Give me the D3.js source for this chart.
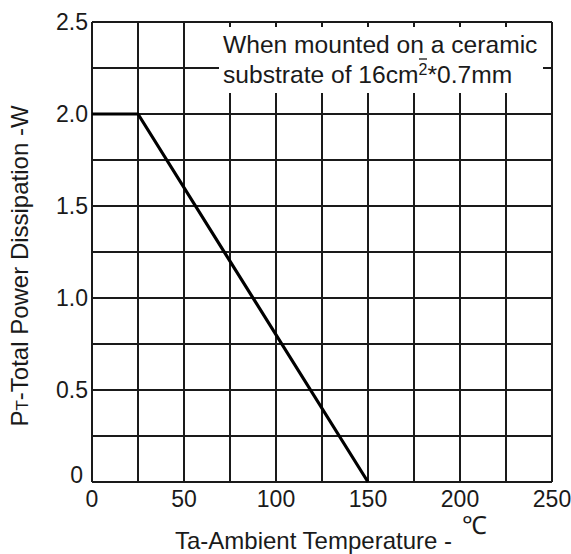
<!DOCTYPE html>
<html>
<head>
<meta charset="utf-8">
<script src="https://cdn.jsdelivr.net/npm/d3@7"></script>
<style>
  html, body { margin: 0; padding: 0; background: #fff; }
  svg { display: block; font-family: "Liberation Sans", Arial, sans-serif; }
</style>
</head>
<body>
<svg id="chart" width="571" height="554"></svg>
<script>
// Power derating curve: total power dissipation vs ambient temperature
const tempTicks = [0, 50, 100, 150, 200, 250];
const powerTicks = [0, 0.5, 1.0, 1.5, 2.0, 2.5];
const tempGrid = [0, 25, 50, 75, 100, 125, 150, 175, 200, 225, 250];
const powerGrid = [0, 0.25, 0.5, 0.75, 1.0, 1.25, 1.5, 1.75, 2.0, 2.25, 2.5];
const curveTemp = [0, 25, 150];
const curvePower = [2.0, 2.0, 0];

const svg = d3.select("#chart");
const plotLeft = 92, plotRight = 552, plotTop = 22, plotBottom = 482;

const x = d3.scaleLinear().domain([0, 250]).range([plotLeft, plotRight]);
const y = d3.scaleLinear().domain([0, 2.5]).range([plotBottom, plotTop]);

const ink = "#1a1a1a";

// grid
const grid = svg.append("g").attr("stroke", ink).attr("stroke-width", 2);
grid.selectAll("line.v").data(tempGrid).join("line")
  .attr("class", "v")
  .attr("x1", d => x(d)).attr("x2", d => x(d))
  .attr("y1", plotTop).attr("y2", plotBottom);
grid.selectAll("line.h").data(powerGrid).join("line")
  .attr("class", "h")
  .attr("x1", plotLeft).attr("x2", plotRight)
  .attr("y1", d => y(d)).attr("y2", d => y(d));

// y tick labels
svg.append("g").selectAll("text").data(powerTicks).join("text")
  .attr("x", d => d === 0 ? plotLeft - 9 : plotLeft - 4)
  .attr("y", d => d === 0 ? y(d) - 7 : y(d))
  .attr("dy", "0.36em")
  .attr("text-anchor", "end")
  .attr("font-size", 23)
  .attr("fill", ink)
  .text(d => d === 0 ? "0" : d.toFixed(1));

// x tick labels
svg.append("g").selectAll("text").data(tempTicks).join("text")
  .attr("x", d => x(d))
  .attr("y", 507)
  .attr("text-anchor", "middle")
  .attr("font-size", 23)
  .attr("fill", ink)
  .text(d => d);

// mounting note
const note = svg.append("g");
note.append("rect")
  .attr("x", 219).attr("y", 27)
  .attr("width", 324).attr("height", 66)
  .attr("fill", "#fff");
note.append("text")
  .attr("x", 223).attr("y", 53)
  .attr("font-size", 24.6).attr("fill", ink)
  .text("When mounted on a ceramic");
const line2 = note.append("text")
  .attr("x", 223).attr("y", 83)
  .attr("font-size", 24.6).attr("fill", ink);
line2.append("tspan").text("substrate of 16cm");
line2.append("tspan").attr("font-size", 16).attr("dy", -8).text("2");
line2.append("tspan").attr("dy", 8).text("*0.7mm");
note.append("line")
  .attr("x1", 419).attr("x2", 427)
  .attr("y1", 59).attr("y2", 59)
  .attr("stroke", ink).attr("stroke-width", 1.3);

// derating curve
const pts = curveTemp.map((t, i) => [t, curvePower[i]]);
svg.append("path")
  .datum(pts)
  .attr("fill", "none")
  .attr("stroke", "#000")
  .attr("stroke-width", 3.2)
  .attr("stroke-linejoin", "miter")
  .attr("d", d3.line().x(d => x(d[0])).y(d => y(d[1])));

// axis titles
svg.append("text")
  .attr("x", 175).attr("y", 549)
  .attr("font-size", 24).attr("fill", ink)
  .text("Ta-Ambient Temperature -");
svg.append("text")
  .attr("x", 462).attr("y", 534)
  .attr("font-size", 25).attr("fill", ink)
  .text("℃");

const yt = svg.append("text")
  .attr("transform", "translate(28,266) rotate(-90)")
  .attr("text-anchor", "middle")
  .attr("font-size", 24).attr("fill", ink);
yt.append("tspan").text("P");
yt.append("tspan").attr("font-size", 17).text("T");
yt.append("tspan").text("-Total Power Dissipation -W");
</script>
</body>
</html>
